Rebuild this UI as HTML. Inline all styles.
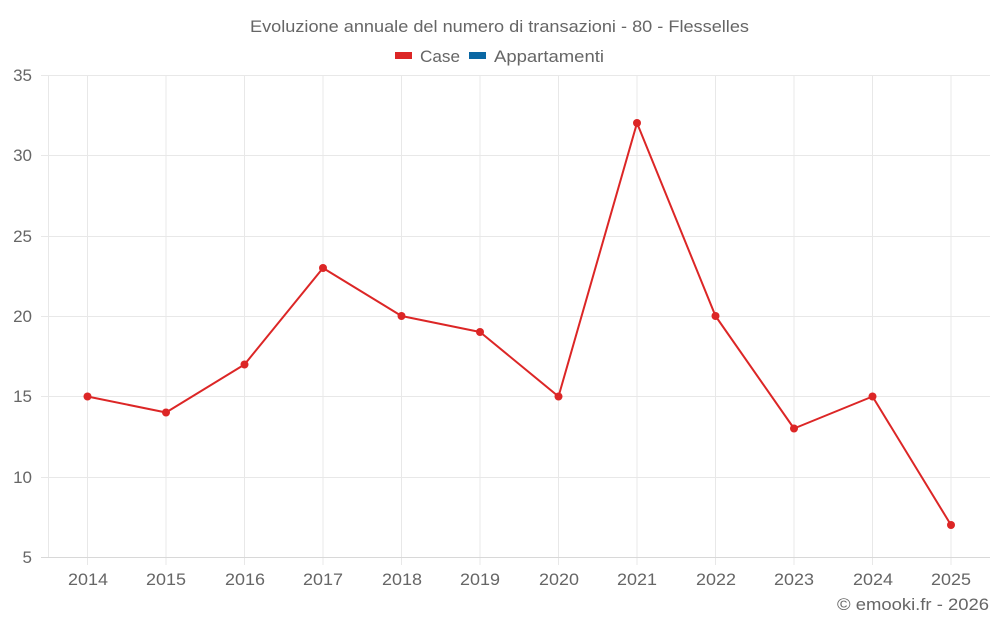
<!DOCTYPE html>
<html><head><meta charset="utf-8"><style>
html,body{margin:0;padding:0;background:#fff;}
svg{display:block;font-family:"Liberation Sans",sans-serif;}
</style></head><body>
<svg width="1000" height="625" viewBox="0 0 1000 625" xmlns="http://www.w3.org/2000/svg">
<rect width="1000" height="625" fill="#fff"/>
<text x="250" y="32" font-size="17" fill="#666" textLength="499" lengthAdjust="spacingAndGlyphs">Evoluzione annuale del numero di transazioni - 80 - Flesselles</text>
<rect x="395" y="52" width="17" height="7" fill="#dc2626"/>
<text x="420" y="62" font-size="17" fill="#666" textLength="40" lengthAdjust="spacingAndGlyphs">Case</text>
<rect x="469" y="52" width="17" height="7" fill="#0a67a3"/>
<text x="494" y="62" font-size="17" fill="#666" textLength="110" lengthAdjust="spacingAndGlyphs">Appartamenti</text>
<g stroke="#e8e8e8" stroke-width="1">
<line x1="41" y1="75.5" x2="990" y2="75.5"/>
<line x1="41" y1="155.5" x2="990" y2="155.5"/>
<line x1="41" y1="236.5" x2="990" y2="236.5"/>
<line x1="41" y1="316.5" x2="990" y2="316.5"/>
<line x1="41" y1="396.5" x2="990" y2="396.5"/>
<line x1="41" y1="477.5" x2="990" y2="477.5"/>
<line x1="48.5" y1="75" x2="48.5" y2="557"/>
<line x1="87.5" y1="75" x2="87.5" y2="565"/>
<line x1="166" y1="75" x2="166" y2="565"/>
<line x1="244.5" y1="75" x2="244.5" y2="565"/>
<line x1="323" y1="75" x2="323" y2="565"/>
<line x1="401.5" y1="75" x2="401.5" y2="565"/>
<line x1="480" y1="75" x2="480" y2="565"/>
<line x1="558.5" y1="75" x2="558.5" y2="565"/>
<line x1="637" y1="75" x2="637" y2="565"/>
<line x1="715.5" y1="75" x2="715.5" y2="565"/>
<line x1="794" y1="75" x2="794" y2="565"/>
<line x1="872.5" y1="75" x2="872.5" y2="565"/>
<line x1="951" y1="75" x2="951" y2="565"/>
</g>
<line x1="41" y1="557.5" x2="990" y2="557.5" stroke="#d8d8d8" stroke-width="1"/>
<g font-size="17" fill="#666" text-anchor="end">
<text x="32" y="81">35</text>
<text x="32" y="161">30</text>
<text x="32" y="242">25</text>
<text x="32" y="322">20</text>
<text x="32" y="402">15</text>
<text x="32" y="483">10</text>
<text x="32" y="563">5</text>
</g>
<g font-size="17" fill="#666">
<text x="68" y="585" textLength="40" lengthAdjust="spacingAndGlyphs">2014</text>
<text x="146" y="585" textLength="40" lengthAdjust="spacingAndGlyphs">2015</text>
<text x="225" y="585" textLength="40" lengthAdjust="spacingAndGlyphs">2016</text>
<text x="303" y="585" textLength="40" lengthAdjust="spacingAndGlyphs">2017</text>
<text x="382" y="585" textLength="40" lengthAdjust="spacingAndGlyphs">2018</text>
<text x="460" y="585" textLength="40" lengthAdjust="spacingAndGlyphs">2019</text>
<text x="539" y="585" textLength="40" lengthAdjust="spacingAndGlyphs">2020</text>
<text x="617" y="585" textLength="40" lengthAdjust="spacingAndGlyphs">2021</text>
<text x="696" y="585" textLength="40" lengthAdjust="spacingAndGlyphs">2022</text>
<text x="774" y="585" textLength="40" lengthAdjust="spacingAndGlyphs">2023</text>
<text x="853" y="585" textLength="40" lengthAdjust="spacingAndGlyphs">2024</text>
<text x="931" y="585" textLength="40" lengthAdjust="spacingAndGlyphs">2025</text>
</g>
<polyline fill="none" stroke="#dc2626" stroke-width="2" stroke-linejoin="round" points="87.5,396.5 166,412.5 244.5,364.5 323,268 401.5,316 480,332 558.5,396.5 637,123 715.5,316 794,428.5 872.5,396.5 951,525"/>
<g fill="#dc2626">
<circle cx="87.5" cy="396.5" r="4"/>
<circle cx="166" cy="412.5" r="4"/>
<circle cx="244.5" cy="364.5" r="4"/>
<circle cx="323" cy="268" r="4"/>
<circle cx="401.5" cy="316" r="4"/>
<circle cx="480" cy="332" r="4"/>
<circle cx="558.5" cy="396.5" r="4"/>
<circle cx="637" cy="123" r="4"/>
<circle cx="715.5" cy="316" r="4"/>
<circle cx="794" cy="428.5" r="4"/>
<circle cx="872.5" cy="396.5" r="4"/>
<circle cx="951" cy="525" r="4"/>
</g>
<text x="837" y="610" font-size="17" fill="#666" textLength="152" lengthAdjust="spacingAndGlyphs">© emooki.fr - 2026</text>
</svg>
</body></html>
